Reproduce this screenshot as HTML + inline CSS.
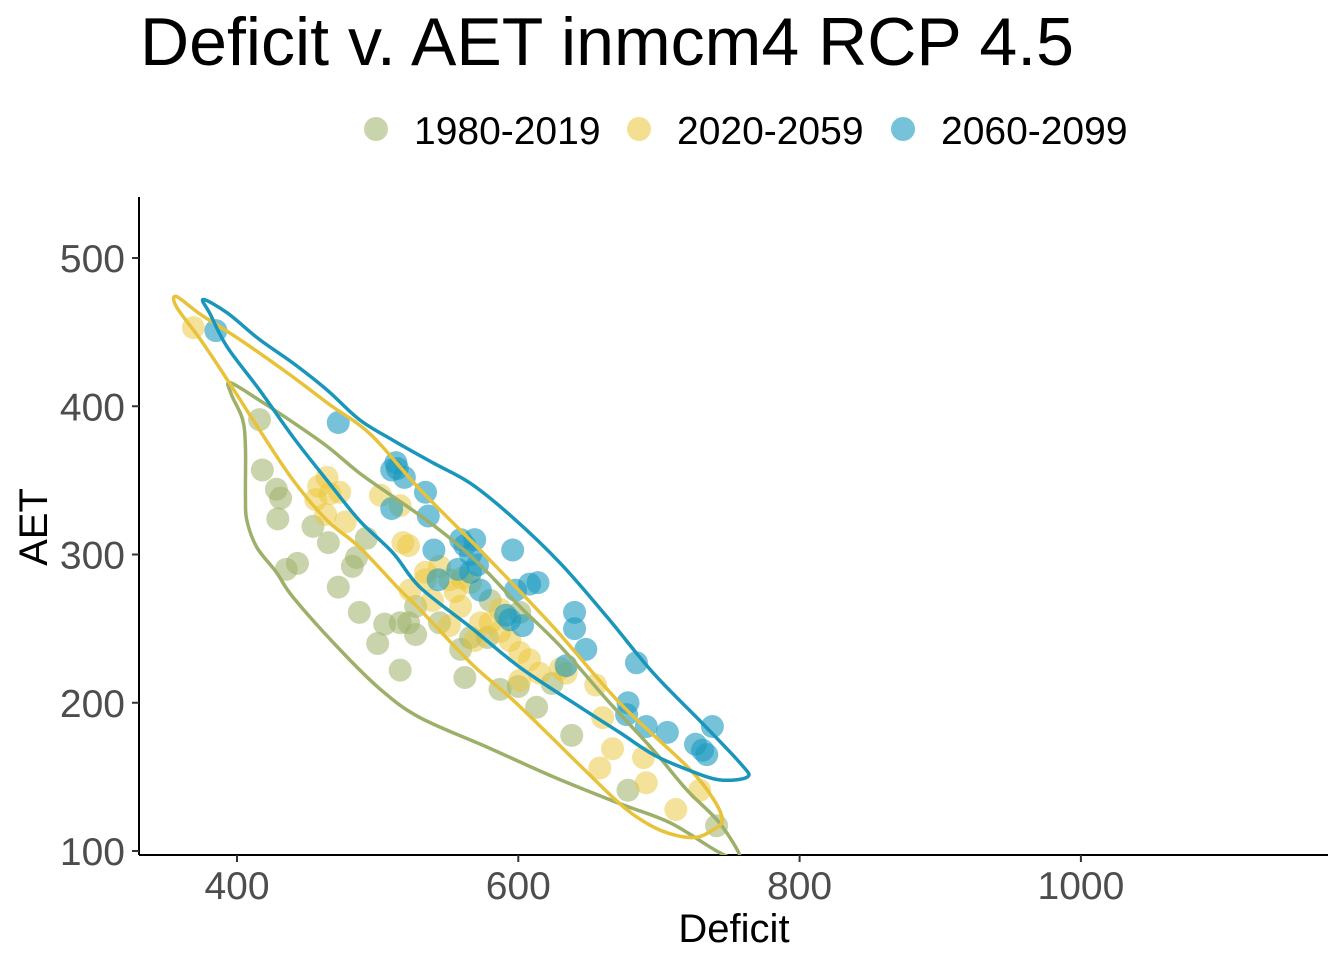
<!DOCTYPE html>
<html><head><meta charset="utf-8"><style>
body{margin:0;background:#fff;}
svg{font-family:"Liberation Sans",Arial,sans-serif;}
</style></head><body>
<svg id="chart" width="1344" height="960" xmlns="http://www.w3.org/2000/svg">
<text x="140" y="65" font-size="68" textLength="934" lengthAdjust="spacingAndGlyphs" fill="#000">Deficit v. AET inmcm4 RCP 4.5</text>
<g>
<g><circle cx="376" cy="129" r="12" fill="#9cb06a" fill-opacity="0.55"/><text x="414" y="144" font-size="39">1980-2019</text></g>
<g><circle cx="639" cy="129" r="12" fill="#ebc536" fill-opacity="0.55"/><text x="677" y="144" font-size="39">2020-2059</text></g>
<g><circle cx="903" cy="129" r="12" fill="#1a9ac0" fill-opacity="0.6"/><text x="941" y="144" font-size="39">2060-2099</text></g>
</g>
<defs><clipPath id="plotclip"><rect x="139" y="190" width="1200" height="665"/></clipPath></defs>
<g id="axes"></g>
<g id="marks" clip-path="url(#plotclip)"></g>
<text x="734" y="942" font-size="40" text-anchor="middle">Deficit</text>
<text transform="translate(47,527) rotate(-90)" font-size="40" text-anchor="middle">AET</text>
</svg>
<script>
const xTicks=[400,600,800,1000];
const yTicks=[100,200,300,400,500];
const green=[[416,391],[418,357],[428,344],[431,338],[429,324],[435,290],[443,294],[454,319],[465,308],[472,278],[482,292],[485,298],[492,311],[487,261],[500,240],[505,253],[516,254],[522,254],[527,265],[527,246],[516,222],[544,254],[559,236],[562,217],[566,244],[578,244],[587,209],[600,211],[613,197],[624,213],[638,178],[678,141],[741,117],[580,269],[601,261]];
const yellow=[[369,453],[458,346],[456,337],[464,352],[466,341],[473,342],[463,327],[477,322],[502,340],[516,333],[518,308],[522,306],[523,276],[534,283],[534,288],[544,292],[551,283],[555,275],[559,265],[560,284],[566,281],[551,252],[573,254],[580,254],[587,248],[594,242],[601,234],[608,229],[615,220],[630,223],[634,220],[655,212],[660,190],[667,169],[658,156],[689,163],[691,146],[712,128],[729,141],[539,269],[569,242],[587,263],[601,215]];
const blue=[[385,451],[472,389],[513,362],[514,358],[510,357],[519,352],[510,331],[534,342],[536,326],[540,303],[543,283],[559,310],[562,306],[566,300],[569,310],[557,290],[566,288],[571,293],[573,276],[591,259],[594,256],[596,303],[598,276],[603,252],[608,280],[614,281],[634,225],[640,250],[640,261],[648,236],[678,200],[677,192],[684,227],[691,184],[706,180],[726,172],[731,168],[734,165],[738,184]];
const greenContour=[[395,416],[416,404],[440,389],[464,373],[487,355],[511,339],[535,323],[559,305],[578,288],[601,265],[630,238],[663,202],[696,168],[720,141],[743,119],[758,95],[743,99],[708,119],[672,132],[625,150],[578,170],[530,190],[502,209],[473,236],[440,271],[428,288],[414,305],[407,323],[406,339],[406,372],[404,391],[396,408]];
const yellowContour=[[357,474],[374,462],[402,445],[438,421],[466,401],[495,381],[530,344],[578,298],[625,251],[672,200],[720,157],[738,136],[745,121],[738,114],[724,109],[701,114],[677,128],[649,153],[620,180],[596,202],[566,227],[530,263],[516,276],[487,305],[464,323],[440,350],[416,384],[393,418],[374,445],[357,467]];
const blueContour=[[376,472],[393,463],[416,445],[440,429],[464,411],[487,391],[511,377],[539,362],[566,348],[596,325],[630,294],[663,258],[696,220],[731,186],[758,159],[763,150],[743,148],[720,155],[696,165],[672,180],[644,197],[601,224],[566,251],[530,278],[511,301],[487,323],[464,350],[440,379],[416,411],[393,440],[381,462]];
const X=v=>237+(v-400)*1.4065;
const Y=v=>851-(v-100)*1.4825;
const NS="http://www.w3.org/2000/svg";
const axes=document.getElementById('axes'),marks=document.getElementById('marks');
function mk(tag,attrs,parent){const e=document.createElementNS(NS,tag);for(const k in attrs)e.setAttribute(k,attrs[k]);parent.appendChild(e);return e;}
let yl=mk('line',{x1:139,y1:197,x2:139,y2:855,stroke:'#000','stroke-width':2},axes);


let xl=mk('line',{x1:139,y1:855,x2:1328,y2:855,stroke:'#000','stroke-width':2},axes);


xTicks.forEach(t=>{
  const l=mk('line',{x1:X(t),x2:X(t),y1:855,y2:862,stroke:'#333','stroke-width':2},axes);
  
  
  const tx=mk('text',{x:X(t),y:899,'font-size':39,'text-anchor':'middle',fill:'#4d4d4d'},axes);
  tx.textContent=t;
  
  
});
yTicks.forEach(t=>{
  const l=mk('line',{x1:132,x2:139,y1:Y(t),y2:Y(t),stroke:'#333','stroke-width':2},axes);
  
  
  const tx=mk('text',{x:125,y:Y(t)+14,'font-size':39,'text-anchor':'end',fill:'#4d4d4d'},axes);
  tx.textContent=t;
  
  
});
function smooth(pts){
  const p=pts.map(d=>[X(d[0]),Y(d[1])]);const n=p.length;
  let s=`M${p[0][0]},${p[0][1]}`;
  for(let i=0;i<n;i++){const p0=p[(i-1+n)%n],p1=p[i],p2=p[(i+1)%n],p3=p[(i+2)%n];
    s+=`C${p1[0]+(p2[0]-p0[0])/6},${p1[1]+(p2[1]-p0[1])/6} ${p2[0]-(p3[0]-p1[0])/6},${p2[1]-(p3[1]-p1[1])/6} ${p2[0]},${p2[1]}`;}
  return s+'Z';
}
function pts(data,color,op,name){
  data.forEach(d=>{
    const c=mk('circle',{cx:X(d[0]),cy:Y(d[1]),r:11.5,fill:color,'fill-opacity':op},marks);
    
    
  });
}
pts(green,'#9cb06a',0.55,'point-1980-2019');
pts(yellow,'#ebc536',0.5,'point-2020-2059');
pts(blue,'#1a9ac0',0.6,'point-2060-2099');
[[greenContour,'#9cb06a','contour-1980-2019'],[yellowContour,'#e8c23a','contour-2020-2059'],[blueContour,'#1a96bb','contour-2060-2099']].forEach(([c,col,name])=>{
  const p=mk('path',{d:smooth(c),fill:'none',stroke:col,'stroke-width':3.5},marks);
  
  
});
</script>
</body></html>
